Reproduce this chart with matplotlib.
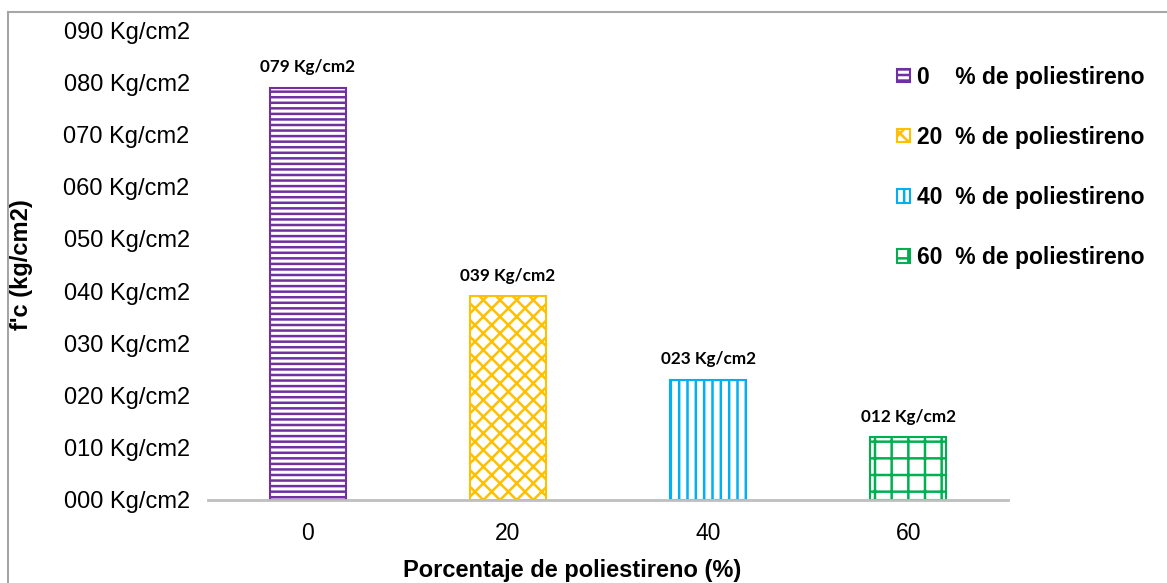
import matplotlib.pyplot as plt
from matplotlib.lines import Line2D

categories = ['0', '20', '40', '60']
values = [79, 39, 23, 12]
colors = ['#7030A0', '#FFC000', '#00B0F0', '#00B050']
hatches = ['---', 'xx', '||', '+']
yticks = [0, 10, 20, 30, 40, 50, 60, 70, 80, 90]

plt.rcParams['font.family'] = 'Liberation Sans'
plt.rcParams['hatch.linewidth'] = 1.8

fig = plt.figure(figsize=(11.67, 5.83), dpi=100)
ax = fig.add_axes([0.178, 0.1424, 0.686, 0.806])

x = range(len(categories))
for i in x:
    ax.bar(i, values[i], width=0.38, color='white', edgecolor=colors[i],
           hatch=hatches[i], linewidth=1.5, label=f'{categories[i]}' + '\u2007' * (2 - len(categories[i])) + '  % de poliestireno')
    ax.text(i, values[i] + 2.4, f'{values[i]:03d} Kg/cm2', ha='center', va='bottom',
            fontsize=12.3, fontweight='bold', family='Lato')

ax.set_xlim(-0.5, 3.5)
ax.set_ylim(0, 90)
ax.set_xticks(list(x))
ax.set_xticklabels(categories, fontsize=16.5)
ax.set_yticks(yticks)
ax.set_yticklabels([f'{v:03d} Kg/cm2' for v in yticks], fontsize=17)
ax.tick_params(axis='x', length=0, pad=16)
ax.tick_params(axis='y', length=0, pad=13)
for s in ['top', 'right', 'left']:
    ax.spines[s].set_visible(False)
ax.spines['bottom'].set_color('#BFBFBF')
ax.spines['bottom'].set_linewidth(2)

ax.set_ylabel("f'c (kg/cm2)", fontsize=17, fontweight='bold')
ax.yaxis.set_label_coords(-0.218, 0.5)
ax.set_xlabel('Porcentaje de poliestireno (%)', fontsize=17, fontweight='bold')
ax.xaxis.set_label_coords(0.455, -0.126)

leg = ax.legend(loc='upper left', bbox_to_anchor=(0.85, 0.944), frameon=False,
                prop={'size': 16.5, 'weight': 'bold'}, handlelength=0.55, handleheight=0.55,
                handletextpad=0.3, labelspacing=1.62, borderaxespad=0)

# outer chart frame
fig.add_artist(Line2D([0.007, 0.007], [0, 0.979], color='#A6A6A6', lw=1.5))
fig.add_artist(Line2D([0.007, 1.0], [0.979, 0.979], color='#A6A6A6', lw=1.5))

fig.savefig('out.png', dpi=100)
